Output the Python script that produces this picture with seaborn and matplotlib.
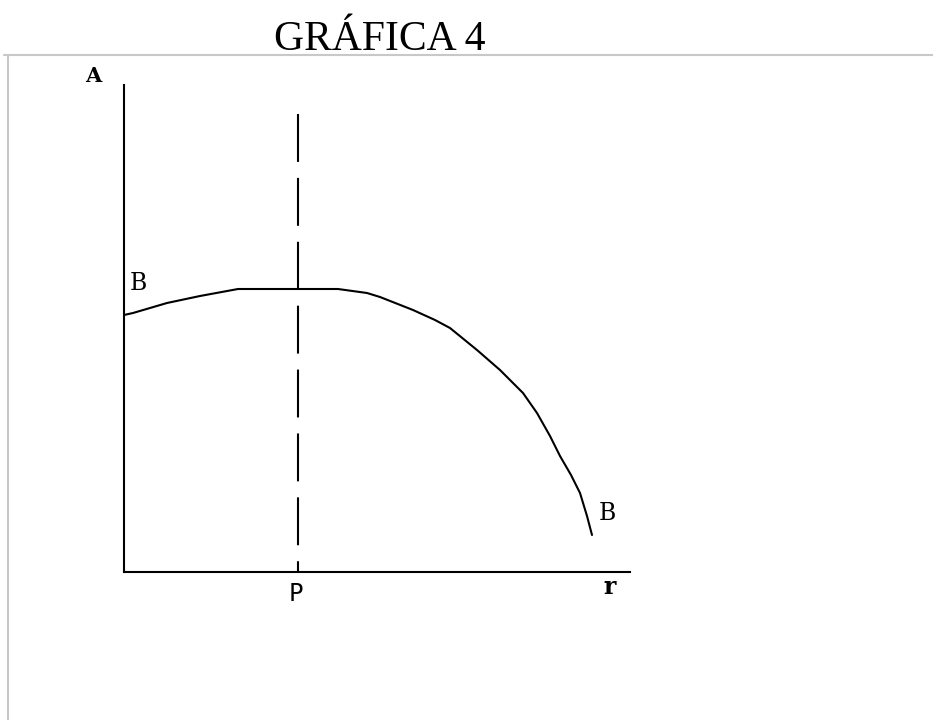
import matplotlib
matplotlib.use("Agg")
import matplotlib.pyplot as plt
from matplotlib.lines import Line2D
import numpy as np
import pandas as pd
import seaborn as sns

# curve B-B (r on x, A on y)
r_vals = [0, 0.9, 4.3, 7.6, 11.4, 21.4, 24.3, 25.6, 28.9, 31.1, 32.6, 35.3, 37.6, 39.9, 41.3, 42.6, 43.6, 44.7, 45.6, 46.3, 46.8]
a_vals = [25.7, 25.9, 26.9, 27.6, 28.3, 28.3, 27.9, 27.5, 26.2, 25.2, 24.4, 22.2, 20.2, 17.9, 15.9, 13.6, 11.6, 9.7, 7.9, 5.6, 3.7]
p_pos = 17.4
p_top = 45.8
x_max = 50.6
y_max = 48.7
title = "GRÁFICA 4"

sns.set_style("white")
plt.rcParams['lines.scale_dashes'] = False
plt.rcParams['text.color'] = "black"

W, H = 933, 720
fig = plt.figure(figsize=(W / 100, H / 100), dpi=100)
ax = fig.add_axes([124 / W, (H - 572) / H, (630 - 124) / W, (572 - 85) / H])

df = pd.DataFrame({"r": r_vals, "A": a_vals})
sns.lineplot(data=df, x="r", y="A", ax=ax, color="black", lw=1.5, sort=False)
ax.plot([p_pos, p_pos], [p_top, 0], color="black", lw=1.5, linestyle=(0, (34.5, 11.5)))

ax.set_xlim(0, x_max)
ax.set_ylim(0, y_max)
for s in ["top", "right"]:
    ax.spines[s].set_visible(False)
for s in ["left", "bottom"]:
    ax.spines[s].set_color("black")
    ax.spines[s].set_linewidth(1.5)
ax.set_xticks([])
ax.set_yticks([])
ax.set_xlabel("")
ax.set_ylabel("")

serif = "DejaVu Serif"
ax.text(-3.1, 49.6, "A", family=serif, fontsize=15, fontweight="bold", ha="center", va="center", clip_on=False)
ax.text(1.4, 28.9, "B", family=serif, fontsize=17, ha="center", va="center", clip_on=False)
ax.text(48.3, 5.9, "B", family=serif, fontsize=17, ha="center", va="center", clip_on=False)
ax.text(17.2, -2.2, "P", family="DejaVu Sans", fontsize=17, ha="center", va="center", clip_on=False)
ax.text(48.6, -1.5, "r", family=serif, fontsize=17, fontweight="bold", ha="center", va="center", clip_on=False)

fig.text(380 / W, 1 - 50 / H, title, family="Liberation Serif", fontsize=30, ha="center", va="baseline")

# light grey frame round the drawing
fig.add_artist(Line2D([4 / W, 1], [1 - 55 / H, 1 - 55 / H], color="#c8c8c8", lw=1.5))
fig.add_artist(Line2D([8 / W, 8 / W], [1 - 55 / H, 0], color="#c8c8c8", lw=1.5))

fig.savefig("out.png", dpi=100)
